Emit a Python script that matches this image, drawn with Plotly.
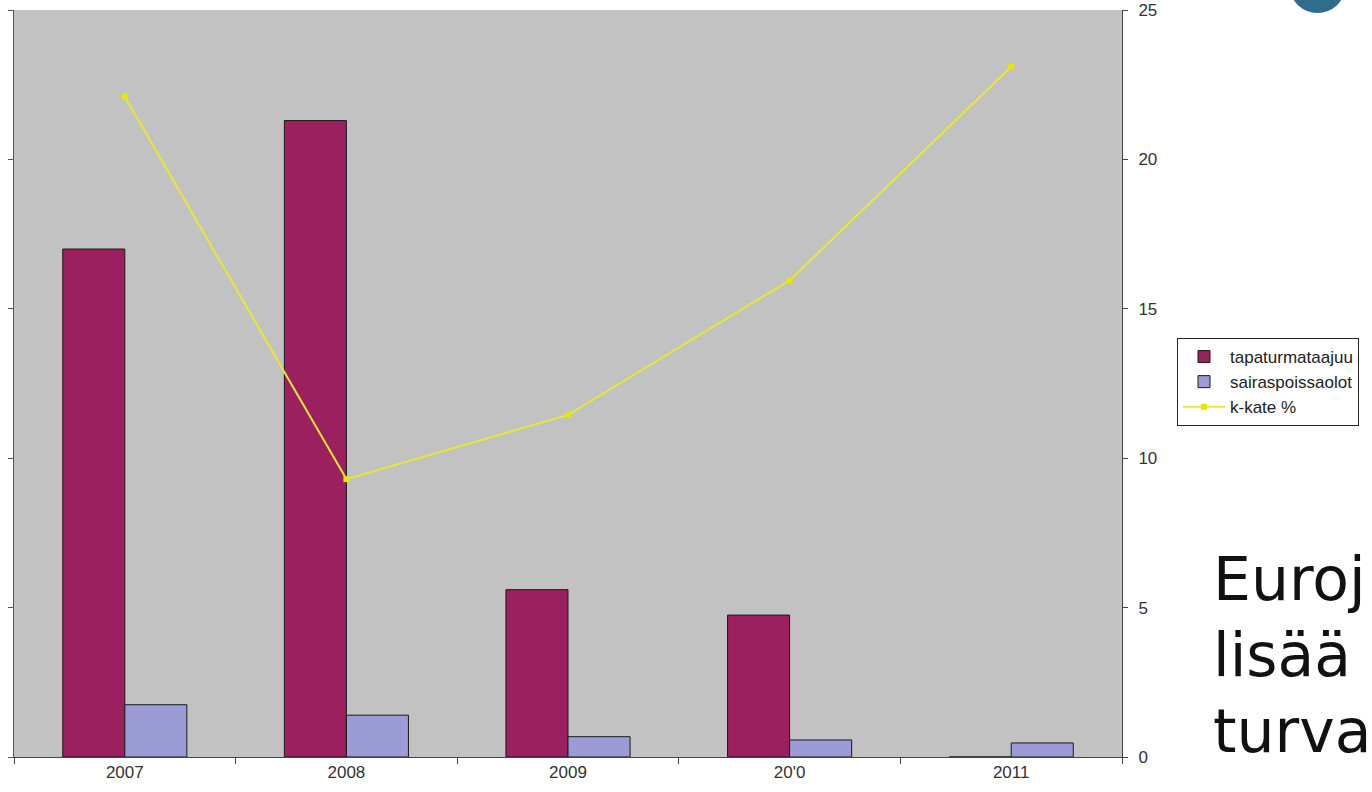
import plotly.graph_objects as go

years = ["2007", "2008", "2009", "20'0", "2011"]
tapaturmataajuus = [17.0, 21.3, 5.6, 4.75, 0]
sairaspoissaolot = [1.75, 1.4, 0.68, 0.57, 0.47]
k_kate = [22.1, 9.3, 11.45, 15.95, 23.1]
series_names = ["tapaturmataajuu", "sairaspoissaolot", "k-kate %"]
y_ticks = [0, 5, 10, 15, 20, 25]

W, H = 1372, 792
L, R, T, B = 14, 250, 10, 35
PW, PH = W - L - R, H - T - B


def px_x(x):
    return (x - L) / PW


def px_y(y):
    return (H - B - y) / PH


fig = go.Figure()
fig.add_trace(go.Bar(
    x=years, y=tapaturmataajuus, name=series_names[0],
    marker=dict(color="#9c1f60", line=dict(color="#1a1a1a", width=1)),
))
fig.add_trace(go.Bar(
    x=years, y=sairaspoissaolot, name=series_names[1],
    marker=dict(color="#9b9bd6", line=dict(color="#1a1a1a", width=1)),
))
fig.add_trace(go.Scatter(
    x=years, y=k_kate, name=series_names[2], yaxis="y2", mode="lines+markers",
    line=dict(color="#e8e830", width=2),
    marker=dict(color="#e6e600", size=6, symbol="square"),
))

tickfont = dict(family="Liberation Sans, Arial, sans-serif", size=17, color="#333333")

fig.update_layout(
    width=W, height=H,
    margin=dict(l=L, r=R, t=T, b=B, autoexpand=False),
    paper_bgcolor="white",
    plot_bgcolor="#c2c2c2",
    barmode="group",
    bargap=0.44,
    bargroupgap=0,
    showlegend=True,
    legend=dict(
        x=px_x(1177), y=px_y(338), xanchor="left", yanchor="top",
        bgcolor="white", bordercolor="#222222", borderwidth=1,
        font=dict(family="Liberation Sans, Arial, sans-serif", size=17, color="#222222"),
        tracegroupgap=0, itemwidth=42,
    ),
    xaxis=dict(
        type="category", showgrid=False, showline=True, linecolor="#444444", linewidth=1,
        ticks="outside", ticklen=6, tickcolor="#444444", tickson="boundaries",
        tickfont=tickfont, zeroline=False,
    ),
    yaxis=dict(
        range=[0, 25], tickvals=y_ticks, showgrid=False, zeroline=False,
        showline=True, linecolor="#555555", linewidth=1,
        ticks="outside", ticklen=5, tickcolor="#555555", showticklabels=False,
    ),
    yaxis2=dict(
        range=[0, 25], tickvals=y_ticks, overlaying="y", side="right",
        showgrid=False, zeroline=False, showline=True, linecolor="#444444", linewidth=1,
        ticks="outside", ticklen=5, tickcolor="#444444", tickfont=tickfont,
        ticklabelstandoff=7,
    ),
    font=dict(family="DejaVu Sans"),
)

slide_lines = ["Euroj", "lisää", "turva"]
baselines = [598, 674, 750]
for txt, bl in zip(slide_lines, baselines):
    fig.add_annotation(
        xref="paper", yref="paper", x=px_x(1211), y=px_y(bl - 19),
        xanchor="left", yanchor="middle", text=txt, showarrow=False,
        font=dict(family="DejaVu Sans, Verdana, sans-serif", size=60, color="#111111"),
    )

fig.add_shape(
    type="circle", xref="paper", yref="paper",
    x0=px_x(1290), x1=px_x(1345), y0=px_y(13), y1=px_y(-40),
    fillcolor="#2f6d8c", line=dict(width=0),
)

fig.write_html(
    "out.html",
    config={"displayModeBar": False},
    post_script="document.body.style.margin='0';",
)
